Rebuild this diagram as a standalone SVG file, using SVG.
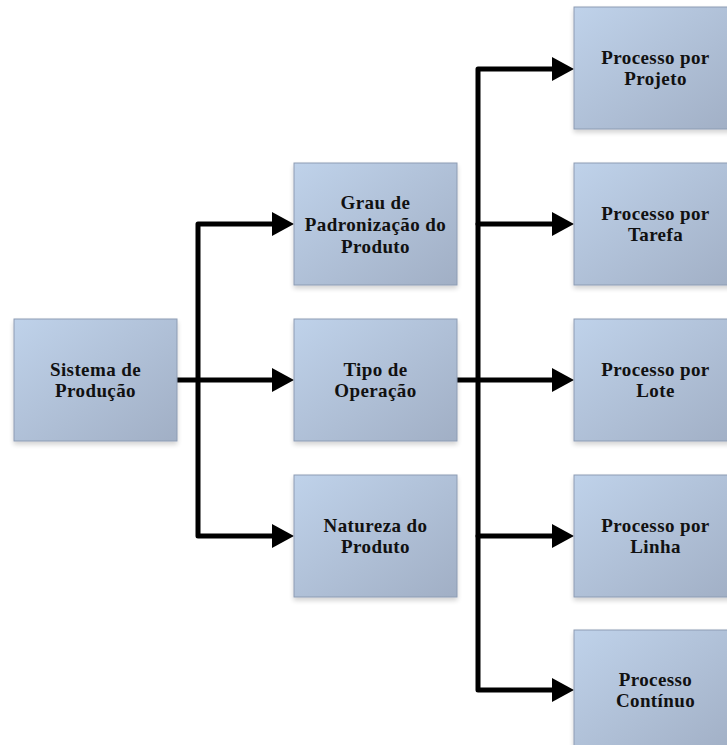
<svg xmlns="http://www.w3.org/2000/svg" width="727" height="745" viewBox="0 0 727 745">
<defs>
<linearGradient id="g" x1="0" y1="0" x2="1" y2="1">
<stop offset="0" stop-color="#BFD2EA"/>
<stop offset="1" stop-color="#A1AFC5"/>
</linearGradient>
<filter id="sh" x="-10%" y="-10%" width="130%" height="130%">
<feGaussianBlur in="SourceAlpha" stdDeviation="2.5"/>
<feOffset dy="3" result="b"/>
<feComponentTransfer><feFuncA type="linear" slope="0.18"/></feComponentTransfer>
<feMerge><feMergeNode/><feMergeNode in="SourceGraphic"/></feMerge>
</filter>
<marker id="ah" markerWidth="22" markerHeight="24" refX="22" refY="12" orient="auto" markerUnits="userSpaceOnUse">
<path d="M0,0 L22,12 L0,24 Z" fill="#000"/>
</marker>
</defs>
<style>
.box{fill:url(#g);stroke:#8D9CB3;stroke-width:1;filter:url(#sh)}
.t{font-family:"Liberation Serif","Times New Roman",serif;font-weight:bold;font-size:19px;letter-spacing:0.4px;fill:#111;text-anchor:middle}
.c{fill:none;stroke:#000;stroke-width:5;stroke-linecap:round;stroke-linejoin:round}
</style>
<rect width="727" height="745" fill="#fff"/>
<g id="connectors">
<path class="c" d="M176,380 H280"/>
<path class="c" d="M280,224 H198 V536 H280"/>
<path class="c" d="M456,380 H560"/>
<path class="c" d="M560,69 H478 V690 H560"/>
<path class="c" d="M478,224 H560"/>
<path class="c" d="M478,536 H560"/>
<g fill="#000">
<path d="M272,212 L294,224 L272,236 Z"/>
<path d="M272,368 L294,380 L272,392 Z"/>
<path d="M272,524 L294,536 L272,548 Z"/>
<path d="M552,57 L574,69 L552,81 Z"/>
<path d="M552,212 L574,224 L552,236 Z"/>
<path d="M552,368 L574,380 L552,392 Z"/>
<path d="M552,524 L574,536 L552,548 Z"/>
<path d="M552,678 L574,690 L552,702 Z"/>
</g>
</g>
<g id="sistema"><rect class="box" x="14" y="319" width="163" height="122"/><text class="t" x="95.5" y="376">Sistema de</text><text class="t" x="95.5" y="397">Produção</text></g>
<g id="grau"><rect class="box" x="294" y="163" width="163" height="122"/><text class="t" x="375.5" y="209">Grau de</text><text class="t" x="375.5" y="231">Padronização do</text><text class="t" x="375.5" y="253">Produto</text></g>
<g id="tipo"><rect class="box" x="294" y="319" width="163" height="122"/><text class="t" x="375.5" y="376">Tipo de</text><text class="t" x="375.5" y="397">Operação</text></g>
<g id="natureza"><rect class="box" x="294" y="475" width="163" height="122"/><text class="t" x="375.5" y="532">Natureza do</text><text class="t" x="375.5" y="553">Produto</text></g>
<g id="projeto"><rect class="box" x="574" y="7" width="163" height="122"/><text class="t" x="655.5" y="64">Processo por</text><text class="t" x="655.5" y="85">Projeto</text></g>
<g id="tarefa"><rect class="box" x="574" y="163" width="163" height="122"/><text class="t" x="655.5" y="220">Processo por</text><text class="t" x="655.5" y="241">Tarefa</text></g>
<g id="lote"><rect class="box" x="574" y="319" width="163" height="122"/><text class="t" x="655.5" y="376">Processo por</text><text class="t" x="655.5" y="397">Lote</text></g>
<g id="linha"><rect class="box" x="574" y="475" width="163" height="122"/><text class="t" x="655.5" y="532">Processo por</text><text class="t" x="655.5" y="553">Linha</text></g>
<g id="continuo"><rect class="box" x="574" y="630" width="163" height="122"/><text class="t" x="655.5" y="686">Processo</text><text class="t" x="655.5" y="707">Contínuo</text></g>
</svg>
